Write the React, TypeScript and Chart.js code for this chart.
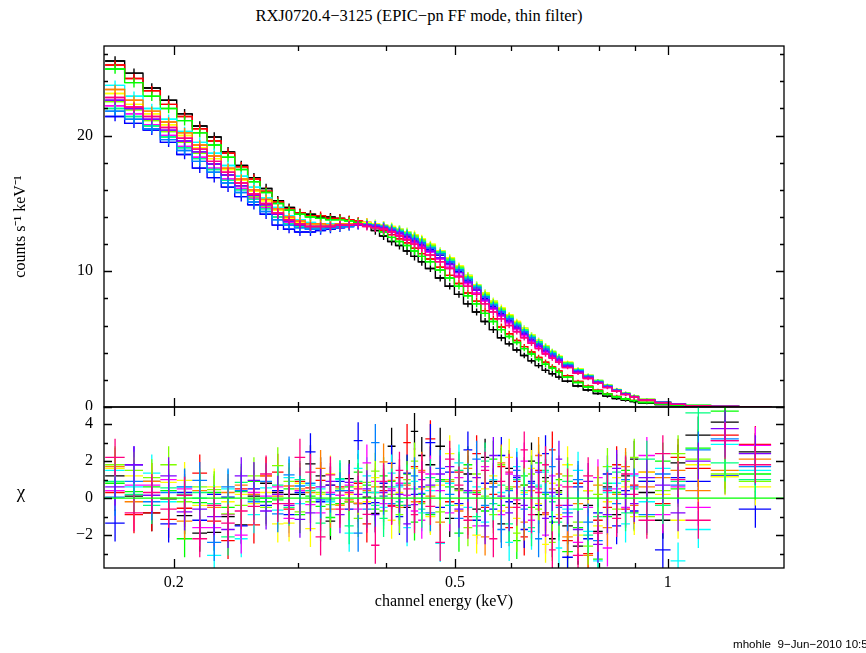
import React, { useEffect, useRef } from "react";
import { Chart, registerables } from "chart.js";

Chart.register(...registerables);

const SERIF = "'Liberation Serif', 'Times New Roman', serif";
const SANS = "'Liberation Sans', Arial, sans-serif";

// ---- axes ----
const X_MIN = 0.1594;
const X_MAX = 1.46;
const X_MAJOR = [0.2, 0.5, 1];
const X_MINOR = [0.3, 0.4, 0.6, 0.7, 0.8, 0.9];
const TOP_Y_MAX = 26.6;
const TOP_Y_MAJOR = [0, 10, 20];
const TOP_Y_MINOR = [2, 4, 6, 8, 12, 14, 16, 18, 22, 24, 26];
const RES_Y_MIN = -3.78;
const RES_Y_MAX = 4.92;
const RES_Y_MAJOR = [-2, 0, 2, 4];
const RES_Y_MINOR = [-3, -1, 1, 3];
const CHI_SIGMA = 1;

// ---- channel grouping (keV bin edges, 59 bins) ----
const BIN_EDGES = [
  0.16, 0.1705, 0.181, 0.1915, 0.202, 0.2125, 0.223, 0.2335, 0.244, 0.2545,
  0.265, 0.2755, 0.286, 0.2965, 0.307, 0.3175, 0.328, 0.3385, 0.349, 0.3595,
  0.37, 0.3805, 0.391, 0.4015, 0.412, 0.4225, 0.433, 0.4435, 0.454, 0.469,
  0.484, 0.499, 0.514, 0.529, 0.544, 0.559, 0.574, 0.589, 0.604, 0.619,
  0.634, 0.649, 0.664, 0.679, 0.694, 0.709, 0.734, 0.759, 0.784, 0.809,
  0.834, 0.859, 0.884, 0.909, 0.959, 1.009, 1.059, 1.15, 1.26, 1.4,
];

const COUNT_ERR = [
  0.35, 0.35, 0.35, 0.35, 0.35, 0.35, 0.35, 0.35, 0.35, 0.35, 0.35, 0.35,
  0.3, 0.3, 0.3, 0.3, 0.3, 0.3, 0.3, 0.3, 0.3, 0.3, 0.3, 0.3, 0.3, 0.3, 0.3, 0.3,
  0.25, 0.25, 0.25, 0.25, 0.25, 0.25, 0.25, 0.25, 0.25,
  0.2, 0.2, 0.2, 0.2, 0.2, 0.2, 0.2, 0.2,
  0.12, 0.12, 0.12, 0.12, 0.12, 0.12, 0.12, 0.12,
  0.07, 0.05, 0.04, 0.03, 0.02, 0.015,
];

// ---- counts s^-1 keV^-1 per observation ----
const COUNTS_BLACK = [
  25.5, 24.6, 23.5, 22.6, 21.6, 20.7, 19.9, 18.8, 17.8, 16.9, 16.1, 15.2, 14.7, 14.3, 14.2, 14.0, 14.0, 13.9, 13.8, 13.6,
  13.4, 13.0, 12.6, 12.2, 11.9, 11.5, 11.1, 10.7, 10.2, 9.5, 8.9, 8.3, 7.6, 7.0, 6.3, 5.7, 5.1, 4.65, 4.2, 3.8,
  3.4, 3.05, 2.7, 2.45, 2.2, 1.9, 1.55, 1.25, 1.0, 0.8, 0.63, 0.5, 0.4, 0.28, 0.18, 0.11, 0.06, 0.025, 0.01,
];
const COUNTS_RED = [
  25.2, 24.2, 23.3, 22.3, 21.4, 20.5, 19.6, 18.7, 17.7, 16.8, 15.9, 15.1, 14.6, 14.3, 14.1, 14.1, 13.9, 13.9, 13.8, 13.7,
  13.6, 13.3, 13.0, 12.7, 12.4, 12.1, 11.7, 11.3, 10.9, 10.3, 9.7, 9.1, 8.4, 7.8, 7.1, 6.5, 5.9, 5.4, 4.9, 4.45,
  4.05, 3.65, 3.3, 2.95, 2.65, 2.3, 1.88, 1.53, 1.23, 0.98, 0.78, 0.61, 0.49, 0.34, 0.22, 0.13, 0.07, 0.03, 0.01,
];
const COUNTS_GREEN = [
  24.9, 23.9, 22.9, 22.0, 21.1, 20.2, 19.3, 18.4, 17.5, 16.6, 15.8, 15.0, 14.5, 14.2, 14.0, 13.9, 13.8, 13.8, 13.7, 13.6,
  13.5, 13.2, 12.9, 12.5, 12.2, 11.9, 11.5, 11.1, 10.7, 10.1, 9.5, 8.9, 8.2, 7.6, 6.9, 6.3, 5.7, 5.2, 4.75, 4.3,
  3.9, 3.5, 3.15, 2.85, 2.55, 2.2, 1.8, 1.47, 1.18, 0.95, 0.75, 0.59, 0.47, 0.33, 0.21, 0.13, 0.07, 0.03, 0.01,
];
const COUNTS_BLUE = [
  21.4, 20.9, 20.4, 19.5, 18.6, 17.6, 16.9, 16.2, 15.5, 14.9, 14.2, 13.4, 13.1, 12.9, 12.9, 13.0, 13.1, 13.2, 13.3, 13.4,
  13.4, 13.3, 13.2, 13.0, 12.8, 12.6, 12.3, 12.0, 11.6, 11.2, 10.6, 10.0, 9.3, 8.7, 8.0, 7.4, 6.9, 6.4, 5.9, 5.45,
  5.0, 4.6, 4.2, 3.85, 3.5, 3.05, 2.63, 2.22, 1.84, 1.51, 1.22, 0.96, 0.75, 0.53, 0.34, 0.2, 0.1, 0.042, 0.014,
];
const COUNTS_CYAN = [
  23.7, 22.9, 22.0, 21.2, 20.3, 19.5, 18.7, 17.8, 17.0, 16.2, 15.4, 14.7, 14.1, 13.8, 13.6, 13.5, 13.5, 13.5, 13.5, 13.5,
  13.5, 13.5, 13.4, 13.2, 13.1, 12.9, 12.6, 12.3, 11.9, 11.5, 10.9, 10.3, 9.7, 9.0, 8.4, 7.8, 7.2, 6.7, 6.2, 5.8,
  5.3, 4.9, 4.5, 4.1, 3.7, 3.25, 2.8, 2.35, 1.95, 1.6, 1.28, 1.0, 0.79, 0.55, 0.36, 0.22, 0.11, 0.045, 0.015,
];
const COUNTS_MAGENTA = [
  22.2, 21.6, 20.8, 20.0, 19.2, 18.4, 17.6, 16.8, 16.1, 15.4, 14.7, 14.0, 13.6, 13.3, 13.2, 13.2, 13.3, 13.3, 13.4, 13.4,
  13.4, 13.3, 13.1, 12.9, 12.7, 12.4, 12.1, 11.8, 11.4, 10.9, 10.3, 9.7, 9.1, 8.4, 7.8, 7.2, 6.7, 6.2, 5.7, 5.25,
  4.8, 4.4, 4.0, 3.65, 3.35, 2.95, 2.53, 2.14, 1.77, 1.46, 1.18, 0.93, 0.73, 0.51, 0.33, 0.2, 0.1, 0.04, 0.014,
];
const COUNTS_YELLOW = [
  23.1, 22.3, 21.6, 20.8, 20.0, 19.1, 18.3, 17.5, 16.7, 15.9, 15.2, 14.5, 13.9, 13.6, 13.5, 13.4, 13.4, 13.4, 13.5, 13.5,
  13.6, 13.5, 13.4, 13.3, 13.1, 12.9, 12.7, 12.4, 12.0, 11.5, 11.0, 10.4, 9.7, 9.0, 8.4, 7.8, 7.3, 6.8, 6.3, 5.8,
  5.3, 4.9, 4.5, 4.1, 3.75, 3.3, 2.8, 2.35, 1.95, 1.6, 1.3, 1.02, 0.8, 0.56, 0.36, 0.22, 0.11, 0.045, 0.015,
];
const COUNTS_ORANGE = [
  23.4, 22.6, 21.8, 21.0, 20.2, 19.3, 18.5, 17.6, 16.8, 16.0, 15.3, 14.6, 14.0, 13.7, 13.5, 13.5, 13.4, 13.5, 13.5, 13.5,
  13.5, 13.4, 13.3, 13.1, 13.0, 12.7, 12.5, 12.2, 11.8, 11.3, 10.8, 10.2, 9.5, 8.8, 8.2, 7.6, 7.1, 6.6, 6.1, 5.6,
  5.1, 4.7, 4.3, 3.95, 3.6, 3.15, 2.7, 2.27, 1.88, 1.55, 1.25, 0.98, 0.77, 0.54, 0.35, 0.21, 0.105, 0.044, 0.015,
];
const COUNTS_LIME = [
  22.5, 21.9, 21.1, 20.3, 19.5, 18.7, 17.9, 17.1, 16.3, 15.5, 14.8, 14.2, 13.7, 13.4, 13.3, 13.3, 13.3, 13.4, 13.4, 13.5,
  13.5, 13.4, 13.3, 13.2, 13.0, 12.8, 12.6, 12.3, 11.9, 11.4, 10.9, 10.3, 9.6, 8.9, 8.3, 7.7, 7.2, 6.7, 6.2, 5.7,
  5.2, 4.8, 4.4, 4.05, 3.7, 3.25, 2.75, 2.3, 1.92, 1.58, 1.27, 1.0, 0.78, 0.55, 0.35, 0.21, 0.11, 0.045, 0.015,
];
const COUNTS_SPRING = [
  22.0, 21.4, 20.7, 19.9, 19.1, 18.3, 17.5, 16.7, 16.0, 15.3, 14.6, 14.0, 13.5, 13.3, 13.2, 13.2, 13.2, 13.3, 13.4, 13.4,
  13.5, 13.4, 13.3, 13.2, 13.0, 12.8, 12.5, 12.2, 11.8, 11.4, 10.8, 10.2, 9.5, 8.9, 8.2, 7.6, 7.1, 6.6, 6.1, 5.65,
  5.2, 4.8, 4.4, 4.0, 3.65, 3.2, 2.75, 2.3, 1.9, 1.56, 1.26, 0.99, 0.78, 0.54, 0.35, 0.21, 0.11, 0.044, 0.015,
];
const COUNTS_AZURE = [
  21.8, 21.2, 20.5, 19.7, 18.9, 18.1, 17.3, 16.5, 15.8, 15.1, 14.4, 13.8, 13.4, 13.2, 13.1, 13.1, 13.2, 13.3, 13.3, 13.4,
  13.4, 13.4, 13.3, 13.1, 12.9, 12.7, 12.4, 12.1, 11.7, 11.3, 10.7, 10.1, 9.4, 8.8, 8.1, 7.5, 7.0, 6.5, 6.0, 5.55,
  5.1, 4.65, 4.25, 3.9, 3.55, 3.1, 2.68, 2.25, 1.86, 1.53, 1.24, 0.97, 0.76, 0.53, 0.34, 0.21, 0.105, 0.043, 0.015,
];
const COUNTS_VIOLET = [
  22.6, 22.0, 21.2, 20.4, 19.6, 18.8, 17.9, 17.1, 16.3, 15.6, 14.9, 14.2, 13.7, 13.4, 13.3, 13.3, 13.3, 13.4, 13.4, 13.4,
  13.4, 13.3, 13.2, 13.0, 12.8, 12.5, 12.2, 11.9, 11.5, 11.0, 10.5, 9.9, 9.2, 8.6, 7.9, 7.3, 6.8, 6.3, 5.8, 5.35,
  4.9, 4.5, 4.1, 3.75, 3.45, 3.0, 2.58, 2.18, 1.8, 1.48, 1.2, 0.94, 0.74, 0.52, 0.33, 0.2, 0.1, 0.041, 0.014,
];
const COUNTS_ROSE = [
  22.8, 22.1, 21.4, 20.6, 19.8, 19.0, 18.1, 17.3, 16.5, 15.7, 15.0, 14.3, 13.8, 13.5, 13.3, 13.3, 13.3, 13.4, 13.4, 13.5,
  13.3, 13.2, 13.1, 12.9, 12.6, 12.3, 12.0, 11.7, 11.2, 10.7, 10.2, 9.6, 8.9, 8.3, 7.6, 7.0, 6.5, 6.0, 5.55, 5.1,
  4.7, 4.3, 3.9, 3.6, 3.3, 2.9, 2.48, 2.1, 1.74, 1.43, 1.16, 0.91, 0.72, 0.5, 0.32, 0.19, 0.1, 0.04, 0.014,
];

// ---- residuals (chi) per observation ----
const CHI_BLACK = [
  1.2, 0.1, -0.8, -0.05, -0.95, -1.9, -1.85, -1.0, -1.45, 0.1,
  0.8, 0.3, 0.2, 0.2, 1.85, 1.2, -1.25, 0.4, 1.05, -0.3,
  0.05, -0.83, 0.6, 2.8, 0.2, -0.5, 3.6, 2.3, 1.8, 2.8,
  -1.1, 0.5, 1.3, -0.6, 2.2, 0.9, -1.4, 1.6, -0.3, 0.7,
  2.0, -0.9, 1.1, -2.2, 0.4, -1.5, -2.6, -0.4, -1.8, 0.6,
  -0.9, 1.2, 2.1, 0.3, -1.2, 1.9, 3.4, 4.1, 2.5,
];
const CHI_RED = [
  0.3, -0.9, -0.8, -1.15, -0.55, 1.35, -1.25, -2.3, 0.5, -1.45,
  1.2, 1.4, -0.6, 0.9, 0.55, 0.95, 0.7, 0.6, -0.2, 0.8,
  -1.4, 0.3, 0.4, -0.4, 1.1, 3.0, 1.7, -0.2, 3.2, 0.9,
  -0.2, 1.4, -1.0, 2.4, -0.5, 0.2, 1.7, -1.6, 0.9, -2.1,
  0.6, 1.5, -0.8, 2.6, -1.1, -2.3, 0.8, -3.0, -1.2, -0.5,
  1.8, -0.6, 0.7, 1.4, -0.3, 2.2, 1.6, 3.4, 2.9,
];
const CHI_GREEN = [
  0.8, 0.35, 0.6, 0.4, -2.2, -0.25, 0.3, -0.5, 0.35, 0.9,
  -0.2, -0.1, 0.5, -0.9, 0.1, -0.45, -1.05, -0.3, 0.6, 1.4,
  0.7, -0.6, 1.2, 0.9, -0.4, 1.3, -1.3, 0.2, -0.9, 1.0,
  0.6, -1.9, 1.8, 0.3, -0.7, 2.1, -0.4, 0.5, -2.3, 1.2,
  -0.5, 1.9, 0.2, -1.3, 1.0, -2.9, -1.6, 0.4, -3.3, -1.0,
  0.3, 1.5, -0.8, 0.9, 2.0, 0.5, 2.7, 4.7, 1.3,
];
const CHI_BLUE = [
  -1.35, 1.8, 0.9, -1.4, 0.3, -1.2, 0.2, 0.05, -1.5, 0.5,
  -0.4, 0.4, -0.9, 0.3, 2.5, -0.2, 0.7, 0.9, -0.6, 3.1,
  -0.3, -0.25, 0.8, 1.87, -1.0, 1.35, 0.2, 0.6, 3.0, -0.5,
  1.4, -0.3, 2.6, -1.2, 0.8, -0.6, 2.3, -0.2, 1.1, -1.7,
  0.9, -0.4, 2.4, -1.0, 0.2, -3.2, 0.6, -2.2, -0.8, 1.3,
  -1.5, 0.4, -0.7, 0.9, -2.8, 1.1, 0.9, 1.2, -0.6,
];
const CHI_CYAN = [
  1.5, 0.6, 1.35, -0.2, 0.6, 0.0, -3.1, 0.5, -2.2, -0.9,
  0.55, -0.65, 1.1, -0.3, 0.7, 0.5, -0.2, 1.0, -1.9, 1.6,
  1.2, 0.3, -0.5, 1.35, 0.6, -1.6, 0.9, -0.8, 0.4, -2.45,
  0.8, 1.9, -0.5, 0.6, -1.3, 1.0, 0.3, -2.4, 1.7, 0.2,
  -1.8, 0.7, 1.4, 0.1, -2.7, -0.6, 1.5, -1.8, -3.4, 0.3,
  0.8, -1.4, 1.2, -0.2, 1.6, -3.4, -1.7, 2.9, 1.5,
];
const CHI_MAGENTA = [
  0.4, 0.7, 0.7, 1.0, 0.5, -1.6, -1.6, -0.9, -2.0, 0.3,
  0.1, 0.6, -1.1, 0.4, -0.35, -0.8, 0.3, 0.15, 0.7, -0.6,
  1.9, 0.9, -0.3, 0.5, 0.8, 0.15, -0.7, -1.2, 1.3, 0.4,
  -0.8, 1.1, 0.3, -1.5, 1.7, 0.6, -0.9, 1.3, -0.1, 2.0,
  -1.2, 0.5, -2.0, 1.2, 0.7, -1.0, -2.4, -0.5, 1.1, -2.7,
  0.5, -0.5, 1.3, 2.3, -0.9, 0.6, -0.5, 3.1, 2.85,
];
const CHI_YELLOW = [
  1.6, 1.2, 0.9, 0.85, 0.95, -0.4, 0.6, -0.2, 0.2, -0.3,
  0.3, -1.4, -1.35, 0.8, -1.65, 0.2, 1.3, -0.4, 0.2, 0.6,
  -0.2, 1.1, 0.1, -1.2, 0.3, -0.38, 1.6, 0.5, -1.0, 0.7,
  2.4, -0.4, 0.9, -2.0, 0.5, 1.2, -0.7, 2.2, -1.1, 0.3,
  1.6, -0.3, -2.5, 0.8, -0.9, 1.8, -2.0, 0.4, -1.5, -0.2,
  1.1, 0.6, -1.0, 1.4, 0.2, -1.2, 1.8, 1.15, 0.6,
];
const CHI_ORANGE = [
  1.7, -0.2, 0.9, 0.0, -1.25, 0.4, -0.5, 0.3, 0.7, 0.2,
  1.2, 0.1, 0.65, 0.5, 0.3, 1.6, -0.6, -0.38, -0.1, -0.28,
  0.4, 0.6, 1.95, 0.95, -0.5, 0.7, -0.2, 1.5, 0.1, -1.3,
  0.9, -0.7, 1.6, 0.4, -2.1, 0.8, 1.9, -0.5, 0.6, -1.3,
  0.4, 2.3, -0.9, 0.5, 1.3, -2.1, -0.3, -3.1, 0.7, -1.6,
  0.2, 1.7, -0.4, 0.6, 1.1, 1.5, 0.4, 1.5, 2.1,
];
const CHI_LIME = [
  1.8, 1.5, 1.1, 1.8, -0.2, 0.6, 0.45, -0.85, -0.4, 1.2,
  -0.5, 1.75, 0.9, -0.75, -0.2, 0.3, -0.35, 0.5, -0.2, -1.1,
  0.85, 1.45, -0.7, 0.2, -0.9, 1.0, 2.0, -0.3, 0.6, -0.75,
  1.0, 0.4, -1.6, 1.3, 0.1, -0.9, 1.8, 0.6, -1.9, 0.7,
  1.3, -0.6, 0.9, -2.4, 0.3, 1.2, -1.3, -2.6, 0.2, 1.7,
  -0.6, 0.9, 2.2, -1.0, 0.4, 2.4, 2.1, 1.3, 0.9,
];
const CHI_SPRING = [
  0.9, 0.2, -0.4, 0.55, 0.2, 0.3, -0.3, -2.1, 0.85, -0.1,
  0.0, 0.7, -0.5, 1.0, 0.4, -1.35, -0.1, 1.05, -1.5, 0.9,
  0.3, -0.4, -1.1, 0.6, -0.2, 0.8, 0.5, -0.6, 1.1, 0.9,
  -0.4, 1.5, 0.3, -1.0, 2.0, -0.3, 0.7, -1.4, 1.0, 0.4,
  -1.6, 0.6, 1.5, -0.2, -1.3, 0.9, -0.6, -2.0, -1.0, 0.8,
  1.4, -0.8, 0.5, 2.1, -0.4, 0.9, 4.6, 1.9, 1.0,
];
const CHI_AZURE = [
  0.05, 0.9, -0.2, 0.3, 0.6, 0.95, -2.4, 0.6, 0.4, -0.2,
  0.9, -0.85, 1.25, 0.65, 0.8, -0.1, 0.2, 0.4, 0.4, -1.9,
  -0.6, 3.0, 0.1, -0.3, 0.7, -0.4, 1.2, 0.25, -0.8, 1.6,
  0.2, -1.1, 0.9, 2.1, -0.4, 0.6, -1.7, 0.4, 1.5, -0.6,
  0.8, -2.2, 0.3, 1.7, -0.5, -0.8, 1.0, -1.3, -2.3, 0.5,
  -0.3, 1.0, 0.6, -0.9, 1.3, 0.7, 2.6, 3.2, 1.7,
];
const CHI_VIOLET = [
  0.6, 1.8, 0.15, 1.2, -0.75, -0.6, -1.0, -1.7, 1.2, 0.95,
  -0.7, 0.2, -0.4, -1.15, -0.8, 0.6, 0.9, -0.9, 0.85, 0.2,
  0.5, -0.9, 0.3, 0.4, 0.2, -1.4, -0.35, 1.0, 0.7, 1.3,
  1.7, -0.6, 0.4, 1.1, -1.5, 2.3, 0.1, -0.8, 1.2, -0.4,
  0.6, 1.4, -1.1, 0.3, 2.1, -0.4, -1.7, 0.9, -2.5, -0.9,
  1.6, 0.2, -0.3, 1.1, 0.7, -0.8, 2.0, 3.75, 2.4,
];
const CHI_ROSE = [
  2.2, -0.8, 0.3, -0.6, 0.15, -2.2, -0.4, -1.35, -0.7, -0.45,
  1.3, -0.3, -0.3, 2.2, 1.4, -2.1, 1.25, -0.6, 0.3, 0.5,
  -0.88, -2.55, 0.9, -0.45, 1.5, 0.5, -0.9, 1.4, -0.45, -2.4,
  2.1, 0.7, -1.2, 0.2, 1.5, -2.2, 0.9, 1.4, -0.5, 2.6,
  -0.9, 0.3, 1.8, -2.8, -0.4, 0.6, -3.1, 1.2, -1.9, 0.4,
  -1.1, 1.3, 0.2, -1.2, 2.4, 1.0, -1.2, 3.1, 1.8,
];

const SERIES = [
  { color: "#000000", counts: COUNTS_BLACK, chi: CHI_BLACK },
  { color: "#ff0000", counts: COUNTS_RED, chi: CHI_RED },
  { color: "#00ff00", counts: COUNTS_GREEN, chi: CHI_GREEN },
  { color: "#0000ff", counts: COUNTS_BLUE, chi: CHI_BLUE },
  { color: "#00ffff", counts: COUNTS_CYAN, chi: CHI_CYAN },
  { color: "#ff00ff", counts: COUNTS_MAGENTA, chi: CHI_MAGENTA },
  { color: "#ffff00", counts: COUNTS_YELLOW, chi: CHI_YELLOW },
  { color: "#ff8000", counts: COUNTS_ORANGE, chi: CHI_ORANGE },
  { color: "#80ff00", counts: COUNTS_LIME, chi: CHI_LIME },
  { color: "#00ff80", counts: COUNTS_SPRING, chi: CHI_SPRING },
  { color: "#0080ff", counts: COUNTS_AZURE, chi: CHI_AZURE },
  { color: "#8000ff", counts: COUNTS_VIOLET, chi: CHI_VIOLET },
  { color: "#ff0080", counts: COUNTS_ROSE, chi: CHI_ROSE },
];

// ---- helpers building library datasets from the arrays ----
function stepPoints(vals: number[]) {
  const pts: any[] = [];
  vals.forEach((v, i) => {
    pts.push({ x: BIN_EDGES[i], y: v });
    pts.push({ x: BIN_EDGES[i + 1], y: v });
  });
  return pts;
}

function crossPoints(vals: number[], errOf: (i: number) => number) {
  const pts: any[] = [];
  vals.forEach((v, i) => {
    const lo = BIN_EDGES[i];
    const hi = BIN_EDGES[i + 1];
    const c = (lo + hi) / 2;
    const e = errOf(i);
    pts.push({ x: lo, y: v }, { x: hi, y: v }, { x: c, y: null });
    pts.push({ x: c, y: v - e }, { x: c, y: v + e }, { x: c, y: null });
  });
  return pts;
}

const fmtTick = (v: any) => {
  const n = Number(v);
  return n < 0 ? "\u2212" + String(-n) : String(n);
};

function framePlugin(yMajor: number[], yMinor: number[]) {
  return {
    id: "frameTicks",
    afterDatasetsDraw(chart: any) {
      const { ctx, chartArea: a } = chart;
      const xs = chart.scales.x;
      const ys = chart.scales.y;
      ctx.save();
      ctx.strokeStyle = "#000";
      ctx.lineWidth = 1.3;
      ctx.strokeRect(a.left, a.top, a.right - a.left, a.bottom - a.top);
      ctx.beginPath();
      const xt = (vals: number[], len: number) => {
        vals.forEach((v) => {
          const p = Math.round(xs.getPixelForValue(v)) + 0.5;
          ctx.moveTo(p, a.top);
          ctx.lineTo(p, a.top + len);
          ctx.moveTo(p, a.bottom);
          ctx.lineTo(p, a.bottom - len);
        });
      };
      const yt = (vals: number[], len: number) => {
        vals.forEach((v) => {
          const p = Math.round(ys.getPixelForValue(v)) + 0.5;
          ctx.moveTo(a.left, p);
          ctx.lineTo(a.left + len, p);
          ctx.moveTo(a.right, p);
          ctx.lineTo(a.right - len, p);
        });
      };
      xt(X_MAJOR, 9);
      xt(X_MINOR, 5);
      yt(yMajor, 8);
      yt(yMinor, 4);
      ctx.stroke();
      ctx.restore();
    },
  };
}

const tickFont = { family: SERIF, size: 16 };

export default function App() {
  const topRef = useRef<HTMLCanvasElement | null>(null);
  const botRef = useRef<HTMLCanvasElement | null>(null);

  useEffect(() => {
    const n = SERIES.length;
    const topSets: any[] = [];
    const botSets: any[] = [];
    SERIES.forEach((s, i) => {
      topSets.push({
        data: stepPoints(s.counts),
        borderColor: s.color,
        borderWidth: 1.4,
        pointRadius: 0,
        fill: false,
        spanGaps: false,
        order: n - i + 1,
      });
      topSets.push({
        data: crossPoints(s.counts, (k) => COUNT_ERR[k]),
        borderColor: s.color,
        borderWidth: 1.4,
        pointRadius: 0,
        fill: false,
        spanGaps: false,
        order: n - i + 1,
      });
      botSets.push({
        data: crossPoints(s.chi, () => CHI_SIGMA),
        borderColor: s.color,
        borderWidth: 1.3,
        pointRadius: 0,
        fill: false,
        spanGaps: false,
        order: n - i + 1,
      });
    });
    botSets.push({
      data: [
        { x: X_MIN, y: 0 },
        { x: X_MAX, y: 0 },
      ],
      borderColor: "#00ff00",
      borderWidth: 1.2,
      pointRadius: 0,
      fill: false,
      order: 0,
    });

    const common: any = {
      responsive: false,
      animation: false,
      events: [],
      plugins: { legend: { display: false }, tooltip: { enabled: false } },
      elements: { line: { tension: 0 }, point: { radius: 0 } },
    };

    const top = new Chart(topRef.current as HTMLCanvasElement, {
      type: "line",
      data: { datasets: topSets },
      options: {
        ...common,
        layout: { padding: { left: 0, right: 82, top: 46, bottom: 3 } },
        scales: {
          x: { type: "logarithmic", min: X_MIN, max: X_MAX, display: false },
          y: {
            type: "linear",
            min: 0,
            max: TOP_Y_MAX,
            afterBuildTicks: (s: any) => {
              s.ticks = TOP_Y_MAJOR.map((v) => ({ value: v }));
            },
            afterFit: (s: any) => {
              s.width = 104;
              s.paddingTop = 0;
              s.paddingBottom = 0;
            },
            grid: { display: false, drawTicks: false },
            border: { display: false },
            ticks: { padding: 11, color: "#000", font: tickFont, callback: fmtTick },
            title: {
              display: true,
              text: "counts s\u207B\u00B9 keV\u207B\u00B9",
              color: "#000",
              font: { family: SERIF, size: 16 },
              padding: { top: 11, bottom: 0 },
            },
          },
        },
      } as any,
      plugins: [framePlugin(TOP_Y_MAJOR, TOP_Y_MINOR)],
    });

    const bot = new Chart(botRef.current as HTMLCanvasElement, {
      type: "line",
      data: { datasets: botSets },
      options: {
        ...common,
        layout: { padding: { left: 0, right: 82, top: 7, bottom: 0 } },
        scales: {
          x: {
            type: "logarithmic",
            min: X_MIN,
            max: X_MAX,
            afterBuildTicks: (s: any) => {
              s.ticks = X_MAJOR.map((v) => ({ value: v }));
            },
            afterFit: (s: any) => {
              s.height = 85;
              s.paddingLeft = 0;
              s.paddingRight = 0;
            },
            grid: { display: false, drawTicks: false },
            border: { display: false },
            ticks: {
              autoSkip: false,
              maxRotation: 0,
              padding: 5,
              color: "#000",
              font: tickFont,
              callback: (v: any) => String(Number(v)),
            },
            title: {
              display: true,
              text: "channel energy (keV)",
              color: "#000",
              font: { family: SERIF, size: 16 },
              padding: { top: 0, bottom: 42 },
            },
          },
          y: {
            type: "linear",
            min: RES_Y_MIN,
            max: RES_Y_MAX,
            afterBuildTicks: (s: any) => {
              s.ticks = RES_Y_MAJOR.map((v) => ({ value: v }));
            },
            afterFit: (s: any) => {
              s.width = 104;
              s.paddingTop = 0;
              s.paddingBottom = 0;
            },
            grid: { display: false, drawTicks: false },
            border: { display: false },
            ticks: { padding: 11, color: "#000", font: tickFont, callback: fmtTick },
          },
        },
      } as any,
      plugins: [framePlugin(RES_Y_MAJOR, RES_Y_MINOR)],
    });

    return () => {
      top.destroy();
      bot.destroy();
    };
  }, []);

  return (
    <div
      style={{
        position: "fixed",
        left: 0,
        top: 0,
        width: 866,
        height: 653,
        overflow: "hidden",
        background: "#fff",
      }}
    >
      <div
        style={{
          position: "absolute",
          left: 419,
          top: 16,
          transform: "translate(-50%, -50%)",
          whiteSpace: "nowrap",
          fontFamily: SERIF,
          fontSize: 16.5,
          color: "#000",
        }}
      >
        RXJ0720.4{"\u2212"}3125 (EPIC{"\u2212"}pn FF mode, thin filter)
      </div>
      <canvas
        ref={topRef}
        width={866}
        height={410}
        style={{ position: "absolute", left: 0, top: 0, width: 866, height: 410 }}
      />
      <canvas
        ref={botRef}
        width={866}
        height={253}
        style={{ position: "absolute", left: 0, top: 400, width: 866, height: 253 }}
      />
      <div
        style={{
          position: "absolute",
          left: 21,
          top: 492,
          transform: "translate(-50%, -50%)",
          fontFamily: SERIF,
          fontSize: 19,
          color: "#000",
        }}
      >
        χ
      </div>
      <div
        style={{
          position: "absolute",
          left: 733,
          top: 637,
          whiteSpace: "pre",
          fontFamily: SANS,
          fontSize: 11.6,
          color: "#000",
        }}
      >
        mhohle  9{"\u2212"}Jun{"\u2212"}2010 10:59
      </div>
    </div>
  );
}
